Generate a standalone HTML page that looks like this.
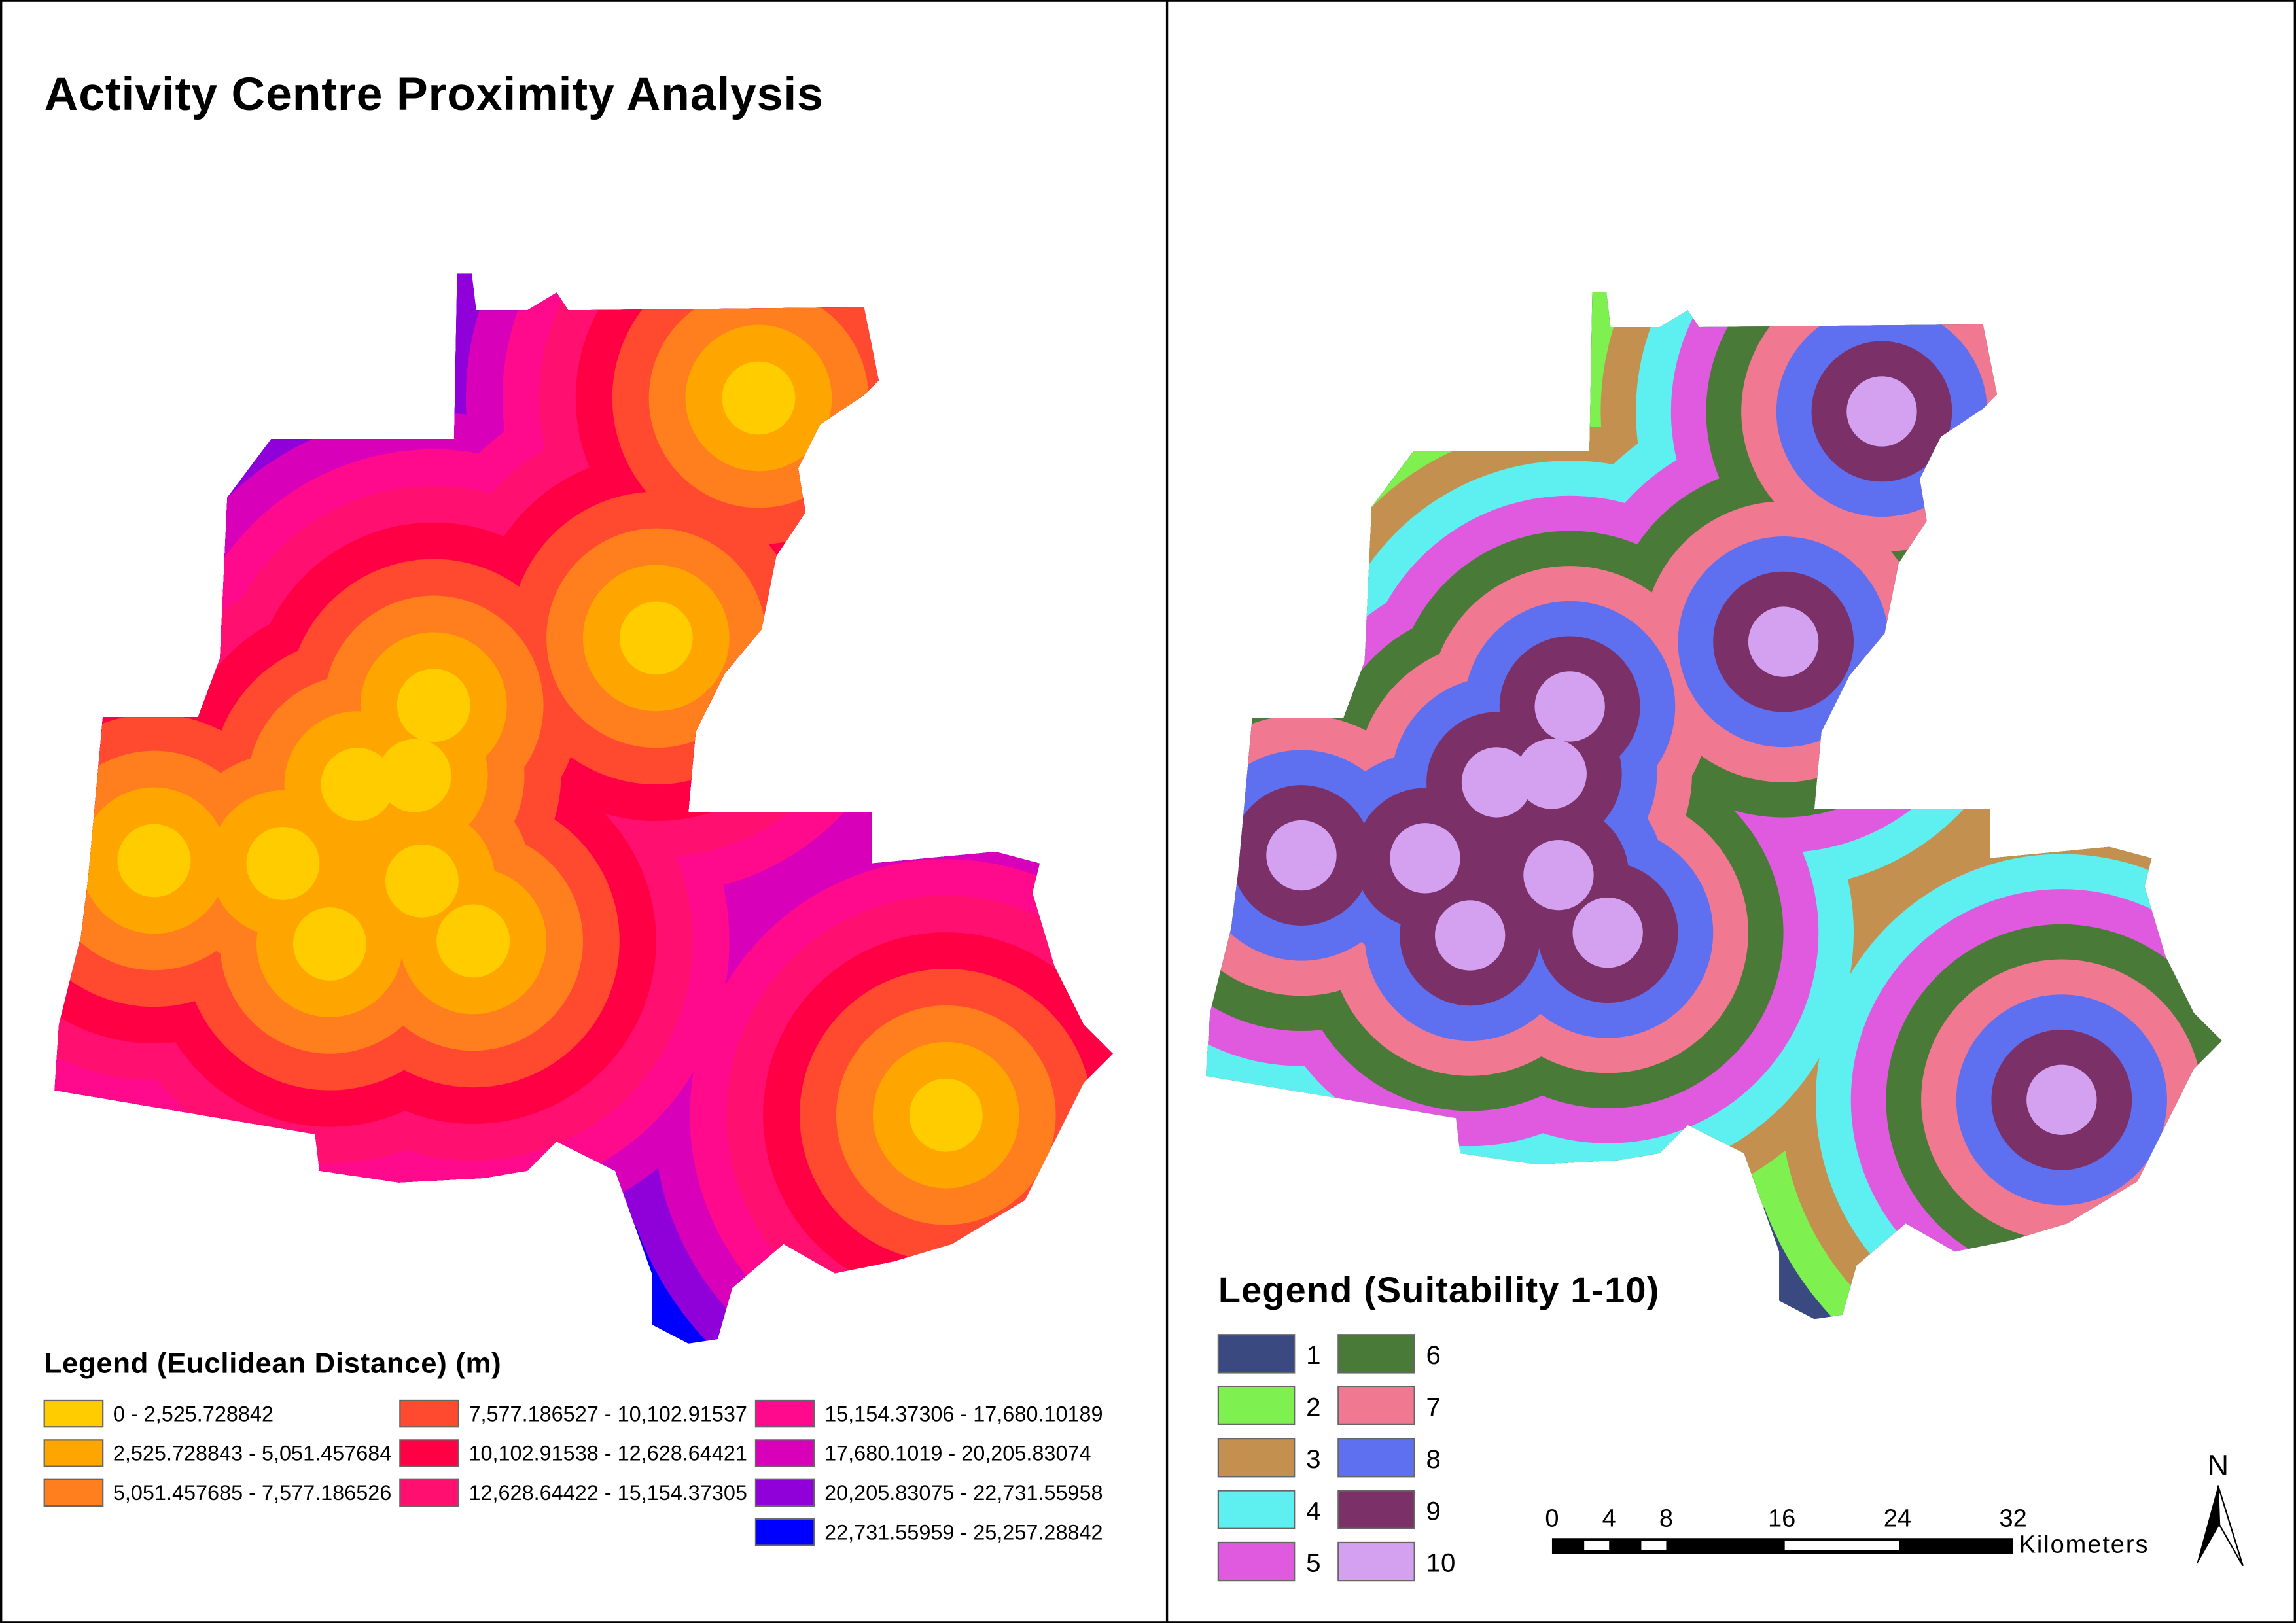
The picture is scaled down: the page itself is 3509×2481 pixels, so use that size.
<!DOCTYPE html>
<html><head><meta charset="utf-8"><style>
html,body{margin:0;padding:0;background:#fff}
svg{display:block}
text{font-family:"Liberation Sans",sans-serif}
</style></head><body>
<svg id="s" width="3509" height="2481" viewBox="0 0 1568 1109" xmlns="http://www.w3.org/2000/svg">
<rect x="0.5" y="0.5" width="1567" height="1108" fill="#fff" stroke="#000" stroke-width="1.5"/>
<line x1="797" y1="0" x2="797" y2="1109" stroke="#000" stroke-width="1.5"/>
<text x="30" y="75" font-size="32" font-weight="bold" textLength="532">Activity Centre Proximity Analysis</text>
<defs>
<clipPath id="region"><polygon id="regionPoly" points="312,187 322,187 325,212 360,212 380,200 388,212 590,210 600,260 590,270 560,290 545,320 550,350 530,380 520,430 495,460 475,500 470,555 595,555 595,590 680,582 710,590 705,610 720,660 740,700 760,720 740,740 720,780 700,820 650,850 610,862 570,870 535,850 500,880 490,915 470,918 445,905 445,870 420,800 380,780 360,800 330,805 272,808 218,800 215,775 37,745 40,700 55,640 60,600 70,490 135,490 150,450 155,340 185,300 310,300"/></clipPath>
</defs>
<g id="leftMap" clip-path="url(#region)"></g>
<g transform="translate(788,20) scale(0.96)"><g id="rightMap" clip-path="url(#region)"></g></g>
<g id="leftLegend">
<text x="30" y="938" font-size="19.5" font-weight="bold" textLength="312">Legend (Euclidean Distance) (m)</text>
</g>
<g id="rightLegend">
<text x="832" y="890" font-size="25" font-weight="bold" textLength="301">Legend (Suitability 1-10)</text>
</g>
<g>
<rect x="1060" y="1051" width="315" height="11" fill="#000"/>
<rect x="1082" y="1053" width="17" height="6" fill="#fff"/>
<rect x="1121" y="1053" width="17" height="6" fill="#fff"/>
<rect x="1219" y="1053" width="78" height="6" fill="#fff"/>
<g font-size="17" text-anchor="middle">
<text x="1060" y="1043">0</text><text x="1099" y="1043">4</text><text x="1138" y="1043">8</text><text x="1217" y="1043">16</text><text x="1296" y="1043">24</text><text x="1375" y="1043">32</text>
</g>
<text x="1379" y="1061" font-size="17" textLength="88">Kilometers</text>
</g>
<g>
<text x="1515" y="1008" font-size="20" text-anchor="middle">N</text>
<polygon points="1515,1015 1500,1070 1516,1042" fill="#000"/>
<polygon points="1515,1015 1532,1070 1516,1042" fill="#fff" stroke="#000" stroke-width="1"/>
</g>
</svg>
<script>
const centresX=[518,448,296,244,283,105,193,288,225,323,646];
const centresY=[272,436,482,536,530,588,590,602,645,643,762];
const bandWidth=25;
const distColors=["#ffcc00","#ffa500","#ff7f1e","#ff4a30","#ff0044","#ff1070","#ff0a8c","#d800b8","#9000d8","#0000ff"];
const distLabels=["0 - 2,525.728842","2,525.728843 - 5,051.457684","5,051.457685 - 7,577.186526","7,577.186527 - 10,102.91537","10,102.91538 - 12,628.64421","12,628.64422 - 15,154.37305","15,154.37306 - 17,680.10189","17,680.1019 - 20,205.83074","20,205.83075 - 22,731.55958","22,731.55959 - 25,257.28842"];
const suitColors=["#d4a0f0","#7b3068","#5e6ff0","#f07890","#4a7a38","#e05ae0","#5ef0f0","#c49050","#7ef050","#3a4a80"];
const suitLabels=["10","9","8","7","6","5","4","3","2","1"];
const NS="http://www.w3.org/2000/svg";
function mk(t,a,p){const e=document.createElementNS(NS,t);for(const k in a)e.setAttribute(k,a[k]);p.appendChild(e);return e;}
function drawMap(g,colors,name){
  mk('rect',{x:0,y:0,width:1568,height:1109,fill:colors[colors.length-1]},g);
  for(let b=colors.length-1;b>=0;b--){
    for(let i=0;i<centresX.length;i++){
      const c=mk('circle',{cx:centresX[i],cy:centresY[i],r:(b+1)*bandWidth,fill:colors[b]},g);
      
      
    }
  }
}
drawMap(document.getElementById('leftMap'),distColors,'distance');
drawMap(document.getElementById('rightMap'),suitColors,'suitability');
const ll=document.getElementById('leftLegend');
for(let i=0;i<distLabels.length;i++){
  const col=i<3?0:(i<6?1:2); const row=i<3?i:(i<6?i-3:i-6);
  const x=[30,273,516][col], y=957+row*27;
  const r=mk('rect',{x:x,y:y,width:40,height:18,fill:distColors[i],stroke:'#666','stroke-width':1},ll);
  
  
  const t=mk('text',{x:x+47,y:y+14,'font-size':14.5},ll);t.textContent=distLabels[i];
  
  
}
const rl=document.getElementById('rightLegend');
for(let k=0;k<10;k++){
  const idx=9-k; const col=k<5?0:1; const row=k%5;
  const x=[832,914][col], y=912+row*35.5;
  const r=mk('rect',{x:x,y:y,width:52,height:26,fill:suitColors[idx],stroke:'#666','stroke-width':1},rl);
  
  
  const t=mk('text',{x:x+60,y:y+20,'font-size':18},rl);t.textContent=suitLabels[idx];
  
  
}
</script>
</body></html>
